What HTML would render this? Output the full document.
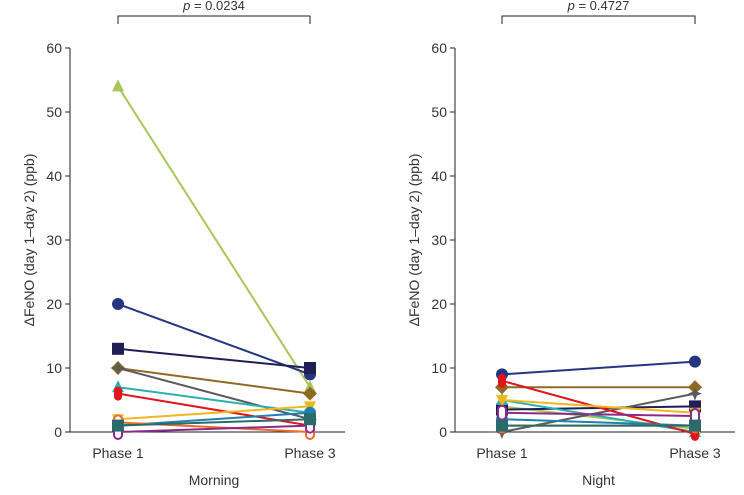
<!DOCTYPE html>
<html><head><meta charset="utf-8"><style>
body{margin:0;background:#fff;font-family:"Liberation Sans",sans-serif}
svg text{font-family:"Liberation Sans",sans-serif;fill:#333}
</style></head><body>
<svg id="c" width="744" height="490"></svg>
<script>
const tickLabels=[0,10,20,30,40,50,60];
const phases=["Phase 1","Phase 3"];
const colors=["#a8c65a","#24367f","#1f1f55","#8f6a22","#5a5a5a","#2bb0b0","#e2141c","#f0b81c","#1f7fae","#f06a2a","#8a2a8a","#2a6a6a"];
const morningP1=[54,20,13,10,10,7,6,2,1,1.5,0,1];
const morningP3=[7,9,10,6,2,3,1,4,3,0,1,2];
const nightP1=[4,9,3.5,7,0,5,8,5,2,1,3,1];
const nightP3=[0.5,11,4,7,6,0,-0.3,3,1,1,2.5,1];
const markers=["tri","circ","sq","dia","star","tri","ell","dtri","circ","rr","orr","sq"];
const pVals=["0.0234","0.4727"];
const titles=["Morning","Night"];
const svg=document.getElementById('c');
const NS="http://www.w3.org/2000/svg";
function mk(t,a,p){const e=document.createElementNS(NS,t);for(const k in a)e.setAttribute(k,a[k]);(p||svg).appendChild(e);return e;}
const y=v=>432-v*6.4;
function panel(ax,x1,x3,xe,p1,p3,title,pv,idx){
 const g=mk('g',{});
 
 
 mk('line',{x1:ax,y1:48,x2:ax,y2:432,stroke:'#222','stroke-width':1},g);
 mk('line',{x1:ax,y1:432,x2:xe,y2:432,stroke:'#222','stroke-width':1},g);
 tickLabels.forEach(t=>{mk('line',{x1:ax-5,y1:y(t),x2:ax,y2:y(t),stroke:'#222'},g);
  const tx=mk('text',{x:ax-8,y:y(t)+5,'text-anchor':'end','font-size':14},g);tx.textContent=t;});
 [x1,x3].forEach((x,i)=>{mk('line',{x1:x,y1:432,x2:x,y2:437,stroke:'#222'},g);
  const tx=mk('text',{x:x,y:458,'text-anchor':'middle','font-size':14},g);tx.textContent=phases[i];});
 const tt=mk('text',{x:(x1+x3)/2,y:485,'text-anchor':'middle','font-size':14},g);tt.textContent=title;
 const yl=mk('text',{x:0,y:0,transform:`translate(${ax-36},240) rotate(-90)`,'text-anchor':'middle','font-size':14},g);
 yl.textContent='ΔFeNO (day 1–day 2) (ppb)';
 mk('path',{d:`M${x1} 24V16H${x3}V24`,fill:'none',stroke:'#222'},g);
 const pt=mk('text',{x:(x1+x3)/2,y:10,'text-anchor':'middle','font-size':13},g);
 pt.innerHTML='<tspan font-style="italic">p</tspan> = '+pv;
 p1.forEach((v,i)=>{
  const c=colors[i];
  const l=mk('line',{x1:x1,y1:y(v),x2:x3,y2:y(p3[i]),stroke:c,'stroke-width':2},g);
  
  
  [[x1,v],[x3,p3[i]]].forEach(([x,val])=>{const yy=y(val);const m=markers[i];let e;
   if(m==='circ')e=mk('circle',{cx:x,cy:yy,r:6,fill:c},g);
   else if(m==='sq')e=mk('rect',{x:x-6,y:yy-6,width:12,height:12,fill:c},g);
   else if(m==='tri')e=mk('polygon',{points:`${x},${yy-7} ${x-6},${yy+5} ${x+6},${yy+5}`,fill:c},g);
   else if(m==='dtri')e=mk('polygon',{points:`${x},${yy+7} ${x-6},${yy-5} ${x+6},${yy-5}`,fill:c},g);
   else if(m==='dia')e=mk('polygon',{points:`${x},${yy-7} ${x+7},${yy} ${x},${yy+7} ${x-7},${yy}`,fill:c},g);
   else if(m==='star')e=mk('polygon',{points:`${x},${yy-7} ${x+2},${yy-2} ${x+7},${yy} ${x+2},${yy+2} ${x},${yy+7} ${x-2},${yy+2} ${x-7},${yy} ${x-2},${yy-2}`,fill:c},g);
   else if(m==='ell')e=mk('rect',{x:x-4,y:yy-7,width:8,height:14,rx:4,fill:c},g);
   else e=mk('rect',{x:x-4,y:yy-7,width:8,height:14,rx:4,fill:'#fff',stroke:c,'stroke-width':2},g);
   
   
  });
 });
}
panel(70,118,310,345,morningP1,morningP3,titles[0],pVals[0],0);
panel(455,502,695,735,nightP1,nightP3,titles[1],pVals[1],1);
</script>
</body></html>
